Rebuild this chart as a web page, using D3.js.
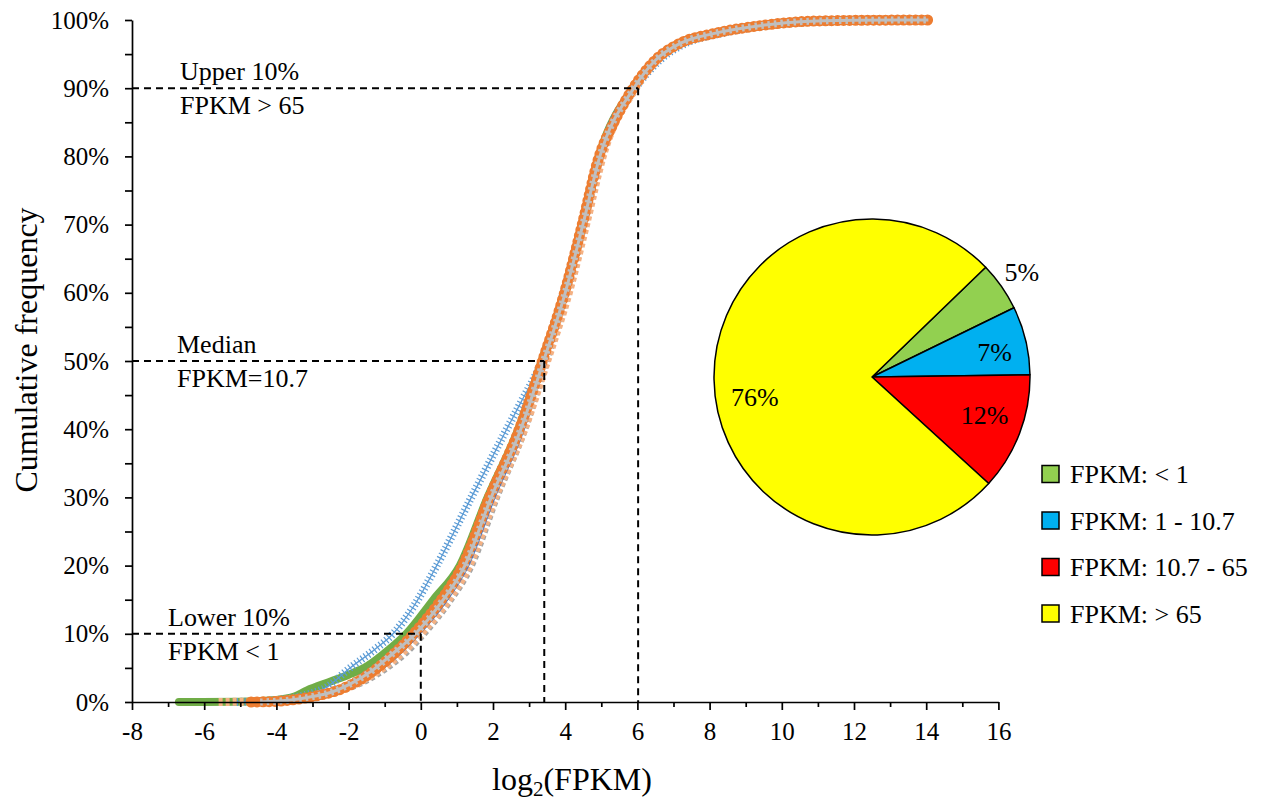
<!DOCTYPE html>
<html>
<head>
<meta charset="utf-8">
<script src="https://cdn.jsdelivr.net/npm/d3@7"></script>
<style>
  body { margin: 0; background: #fff; }
  svg text { font-family: "Liberation Serif", "Times New Roman", serif; fill: #000; }
</style>
</head>
<body>
<svg id="chart" width="1267" height="802"></svg>
<script>
// cumulative frequency curves, [log2(FPKM), cumulative %]
var greenSeries = [[-6.7,0],[-5.0,0.05],[-4.0,0.3],[-3.5,0.8],[-3.15,1.7],[-2.5,3.0],[-2.0,4.0],[-1.5,5.2],[-0.9,7.6],[-0.4,10],[0.35,15],[1.08,20],[1.85,30],[2.7,40],[3.35,50],[3.97,60],[4.46,70],[4.93,80],[5.87,90],[6.48,94.1],[7.17,96.6],[8.1,98.0],[9.6,99.3],[11,99.85],[12.5,100]];
var lightBlueSeries = [[-5.2,0],[-4.2,0.2],[-3.3,0.9],[-2.6,2.2],[-1.96,5.0],[-1.3,7.6],[-0.77,10],[-0.2,14],[0.44,20],[1.4,30],[2.38,40],[2.78,44],[3.35,50],[3.95,60],[4.47,70],[4.97,80],[5.95,90],[6.62,94.1],[7.35,96.6],[8.3,98.0],[9.8,99.3],[11,99.75],[12.5,99.95],[14.12,100]];
var grayTriSeries = [[-4.4,0],[-3.4,0.3],[-2.7,1.0],[-2.1,1.9],[-1.5,3.2],[-0.95,5],[-0.4,7.3],[0.08,10],[0.76,14.5],[1.4,20],[2.1,30],[2.88,40],[3.48,50],[4.06,60],[4.54,70],[5.0,80],[5.92,90],[6.5,94.1],[7.2,96.6],[8.1,98],[9.6,99.3],[12,99.95],[14,100]];
var salmonSeries = [[-5.6,0],[-4.5,0.1],[-3.6,0.4],[-2.9,0.9],[-2.3,1.6],[-1.6,3.2],[-1.05,5],[-0.5,7.3],[0.0,10],[0.7,14.5],[1.34,20],[2.06,30],[2.87,40],[3.5,50],[4.1,60],[4.58,70],[5.04,80],[5.95,90],[6.55,94.1],[7.25,96.6],[8.2,98.0],[9.7,99.3],[12,99.95],[14,100]];
var blueSeries = [[-4.5,0],[-3.5,0.3],[-2.8,1.0],[-2.2,1.8],[-1.6,3.2],[-1.05,5],[-0.55,7.3],[-0.05,10],[0.65,14.5],[1.3,20],[2.03,30],[2.84,40],[3.42,50],[3.98,60],[4.44,70],[4.89,80],[5.8,90],[6.4,94.1],[7.1,96.6],[8.0,98.0],[9.5,99.3],[10.5,99.75],[12,99.95],[14,100]];
var orangeSeries = [[-4.7,0],[-4.0,0.1],[-3.3,0.5],[-2.8,1.0],[-2.3,1.7],[-1.7,3.2],[-1.2,5.0],[-0.7,7.3],[-0.2,10.0],[0.5,14.5],[1.16,20],[1.9,30],[2.73,40],[3.37,50],[3.98,60],[4.47,70],[4.94,80],[5.35,85],[5.88,90],[6.49,94.1],[7.18,96.6],[8.1,98.0],[9.6,99.3],[10.5,99.75],[12,99.95],[14.06,100]];
var grayDashSeries = [[-4.45,0],[-3.6,0.3],[-3.0,0.8],[-2.5,1.4],[-1.9,2.8],[-1.35,4.6],[-0.8,7],[-0.15,10],[0.55,14.5],[1.22,20],[1.95,30],[2.77,40],[3.4,50],[4.0,60],[4.49,70],[4.96,80],[5.9,90],[6.5,94.1],[7.2,96.6],[8.1,98],[9.6,99.3],[10.5,99.75],[12,99.95],[14.06,100]];

var xTicks = [-8,-6,-4,-2,0,2,4,6,8,10,12,14,16];
var xMinorTicks = [-7,-5,-3,-1,1,3,5,7,9,11,13,15];
var yTicks = [0,10,20,30,40,50,60,70,80,90,100];
var yMinorTicks = [5,15,25,35,45,55,65,75,85,95];

// reference lines: log2 FPKM cut-off and cumulative %
var refX = [0, 3.42, 6.02];
var refY = [10, 50, 90];
var refText = [["Lower 10%","FPKM < 1"],["Median","FPKM=10.7"],["Upper 10%","FPKM > 65"]];

// pie of FPKM classes
var pieLabels = ["FPKM: < 1","FPKM: 1 - 10.7","FPKM: 10.7 - 65","FPKM: > 65"];
var pieValues = [5, 7, 12, 76];
var pieColors = ["#92d050","#00b0f0","#ff0000","#ffff00"];

var svg = d3.select('#chart');

var x = d3.scaleLinear().domain([-8,16]).range([132, 998.4]);
var y = d3.scaleLinear().domain([0,100]).range([702, 20]);

var line = d3.line()
	.x(function(d){ return x(d[0]); })
	.y(function(d){ return y(d[1]); })
	.curve(d3.curveMonotoneX);

function drawSeries(data, styles){
	styles.forEach(function(s){
		var p = svg.append('path')
			.datum(data)
			.attr('d', line)
			.attr('fill','none')
			.attr('stroke', s.color)
			.attr('stroke-width', s.width)
			.attr('stroke-linecap', s.cap || 'butt')
			.attr('stroke-linejoin','round');
		if(s.dash) p.attr('stroke-dasharray', s.dash);
	});
}

drawSeries(greenSeries, [{color:'#70ad47', width:8, cap:'round'}]);
drawSeries(lightBlueSeries, [{color:'#5b9bd5', width:1.3}, {color:'#5b9bd5', width:8, dash:'1.2 2.6'}]);
drawSeries(grayTriSeries, [{color:'#a5a5a5', width:7, dash:'4 3'}]);
drawSeries(salmonSeries, [{color:'#f4b183', width:8, dash:'4 3'}]);
drawSeries(blueSeries, [{color:'#4472c4', width:3}]);
drawSeries(orangeSeries, [{color:'#ed7d31', width:9}, {color:'#ed7d31', width:11, cap:'round', dash:'0 6'}]);
drawSeries(grayDashSeries, [{color:'#bfbfbf', width:3}, {color:'#bfbfbf', width:7, dash:'2.5 4'}]);

// axes
svg.append('g')
	.attr('transform','translate(' + x(-8) + ',0)')
	.call(d3.axisLeft(y).tickValues(yTicks).tickSize(7).tickSizeOuter(0).tickPadding(16)
		.tickFormat(function(d){ return d + '%'; }));
svg.append('g')
	.attr('transform','translate(' + x(-8) + ',0)')
	.call(d3.axisLeft(y).tickValues(yMinorTicks).tickSize(7).tickSizeOuter(0).tickFormat(''))
	.select('.domain').remove();

svg.append('g')
	.attr('transform','translate(0,' + y(0) + ')')
	.call(d3.axisBottom(x).tickValues(xTicks).tickSize(8).tickSizeOuter(0).tickPadding(12)
		.tickFormat(function(d){ return String(d); }));
svg.append('g')
	.attr('transform','translate(0,' + y(0) + ')')
	.call(d3.axisBottom(x).tickValues(xMinorTicks).tickSize(5).tickSizeOuter(0).tickFormat(''))
	.select('.domain').remove();

svg.selectAll('.domain, .tick line').attr('stroke','#000').attr('stroke-width',1.7);
svg.selectAll('.tick text').attr('font-size',25).attr('fill','#000')
	.style('font-family','"Liberation Serif", serif');

// dashed reference lines and notes
refX.forEach(function(v, i){
	var g = svg.append('g')
		.attr('stroke','#000').attr('stroke-width',2).attr('stroke-dasharray','7 5').attr('fill','none');
	g.append('line').attr('x1', x(-8)).attr('x2', x(v)).attr('y1', y(refY[i])).attr('y2', y(refY[i]));
	g.append('line').attr('x1', x(v)).attr('x2', x(v)).attr('y1', y(refY[i])).attr('y2', y(0));
});

var noteX = [168, 177, 180];
refText.forEach(function(t, i){
	var yy = y(refY[i]);
	svg.append('text').attr('x', noteX[i]).attr('y', yy - 8).attr('font-size',26).text(t[0]);
	svg.append('text').attr('x', noteX[i]).attr('y', yy + 26).attr('font-size',26).text(t[1]);
});

// axis titles
svg.append('text')
	.attr('transform','translate(37,350) rotate(-90)')
	.attr('text-anchor','middle')
	.attr('font-size',32)
	.text('Cumulative frequency');

var xt = svg.append('text')
	.attr('x', 572).attr('y', 790)
	.attr('text-anchor','middle')
	.attr('font-size',32);
xt.append('tspan').text('log');
xt.append('tspan').attr('font-size',21).attr('dy',6).text('2');
xt.append('tspan').attr('dy',-6).text('(FPKM)');

// pie
var pieCx = 872, pieCy = 377, pieR = 158;
var pie = d3.pie().sort(null)
	.startAngle(46 * Math.PI / 180)
	.endAngle(46 * Math.PI / 180 + 2 * Math.PI);
var arc = d3.arc().innerRadius(0).outerRadius(pieR);
var arcs = pie(pieValues);

var pg = svg.append('g').attr('transform','translate(' + pieCx + ',' + pieCy + ')');
pg.selectAll('path')
	.data(arcs)
	.enter().append('path')
	.attr('d', arc)
	.attr('fill', function(d, i){ return pieColors[i]; })
	.attr('stroke','#000')
	.attr('stroke-width',1.5)
	.attr('stroke-linejoin','round');

// label radius and angle nudge per slice (small slice label sits outside)
var labelR = [183, 125, 119, 119];
var labelShift = [0, 2, -2, -9];
function labelPos(d, i){
	var a = (d.startAngle + d.endAngle) / 2 + labelShift[i] * Math.PI / 180;
	return [Math.sin(a) * labelR[i], -Math.cos(a) * labelR[i]];
}
pg.selectAll('text.pl')
	.data(arcs)
	.enter().append('text')
	.attr('class','pl')
	.attr('text-anchor','middle')
	.attr('font-size',26)
	.attr('x', function(d, i){ return labelPos(d, i)[0]; })
	.attr('y', function(d, i){ return labelPos(d, i)[1] + 9; })
	.text(function(d){ return d.value + '%'; });

// legend
var lg = svg.append('g').attr('transform','translate(1042,474)');
pieLabels.forEach(function(name, i){
	var row = lg.append('g').attr('transform','translate(0,' + (i * 46.5) + ')');
	row.append('rect').attr('x',0).attr('y',-8.5).attr('width',17).attr('height',17)
		.attr('fill', pieColors[i]).attr('stroke','#000').attr('stroke-width',1.5);
	row.append('text').attr('x',28).attr('y',9).attr('font-size',26).text(name);
});
</script>
</body>
</html>
